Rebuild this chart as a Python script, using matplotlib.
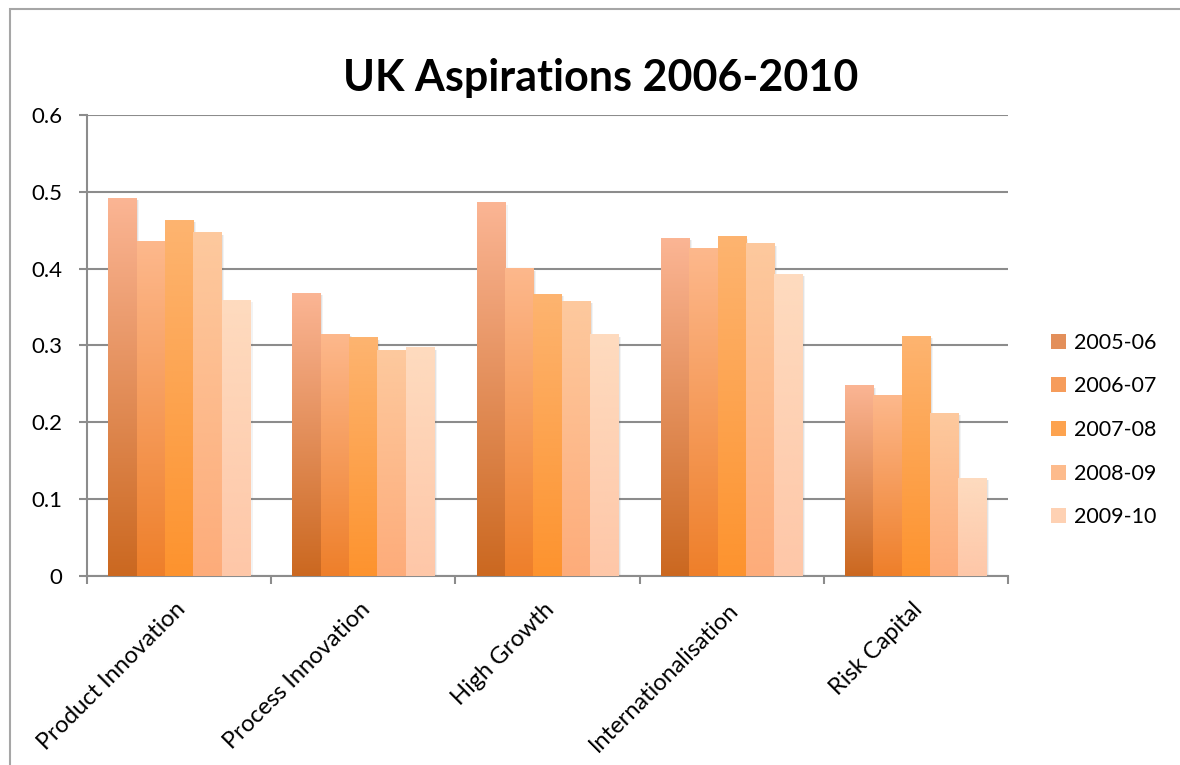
import numpy as np
import matplotlib
matplotlib.use("Agg")
import matplotlib.pyplot as plt
from matplotlib.patches import Rectangle
from matplotlib.colors import to_rgb
import matplotlib.transforms as mtransforms

categories = ["Product Innovation", "Process Innovation", "High Growth",
              "Internationalisation", "Risk Capital"]
years = ["2005-06", "2006-07", "2007-08", "2008-09", "2009-10"]

# one list per year, values in category order
v2005 = [0.492, 0.368, 0.486, 0.440, 0.248]
v2006 = [0.435, 0.315, 0.400, 0.427, 0.235]
v2007 = [0.463, 0.310, 0.367, 0.442, 0.312]
v2008 = [0.447, 0.294, 0.358, 0.433, 0.212]
v2009 = [0.359, 0.297, 0.314, 0.393, 0.127]
series = [v2005, v2006, v2007, v2008, v2009]

# bottom -> top colours of each bar's gradient
grad_bottom = ["#CB6820", "#EE7F2A", "#FD932E", "#FDAC7A", "#FEC7A8"]
grad_top = ["#FBB594", "#FDB88C", "#FDB470", "#FDC99E", "#FEDBBF"]

plt.rcParams['font.family'] = ['Lato', 'DejaVu Sans']

fig = plt.figure(figsize=(11.8, 7.65), dpi=100)
ax = fig.add_axes([87/1180, 1 - 575.7/765, (1008-87)/1180, (575.7-115)/765])

n = len(series)
w = 0.154
grid_col = "#8C8C8C"


def gradient_bar(ax, x0, h, c0, c1):
    c0 = np.array(to_rgb(c0))
    c1 = np.array(to_rgb(c1))
    t = np.linspace(1, 0, 200)[:, None]
    img = (c1 * t + c0 * (1 - t))[:, None, :]
    ax.imshow(img, extent=[x0, x0 + w, 0, h], aspect='auto', zorder=3,
              interpolation='bilinear')
    # soft shadow on the right
    for k, a in [(0.014, 0.07), (0.008, 0.10)]:
        ax.add_patch(Rectangle((x0 + k, 0), w, h - 0.003, facecolor='#555555',
                               edgecolor='none', alpha=a, zorder=2))


for i, vals in enumerate(series):
    for j, v in enumerate(vals):
        x0 = j + (i - n / 2) * w
        gradient_bar(ax, x0, v, grad_bottom[i], grad_top[i])

ax.set_xlim(-0.5, len(categories) - 0.5)
ax.set_ylim(0, 0.6)
ax.set_yticks(np.arange(0, 0.61, 0.1))
ax.set_yticklabels(["0", "0.1", "0.2", "0.3", "0.4", "0.5", "0.6"])
ax.yaxis.grid(True, color=grid_col, linewidth=1.5)
ax.set_axisbelow(True)

for s in ["top", "right"]:
    ax.spines[s].set_visible(False)
for s in ["left", "bottom"]:
    ax.spines[s].set_color(grid_col)
    ax.spines[s].set_linewidth(1.5)

ax.tick_params(axis='y', length=6, width=1.5, color=grid_col, labelsize=16, pad=12)
ax.set_xticks(np.arange(len(categories)))
ax.set_xticks(np.arange(-0.5, len(categories)), minor=True)
ax.tick_params(axis='x', which='major', length=0, labelsize=17, pad=22)
ax.tick_params(axis='x', which='minor', length=6, width=1.5, color=grid_col)
ax.set_xticklabels(categories, rotation=45, ha='right', va='center',
                   rotation_mode='anchor')
shift = mtransforms.ScaledTranslation(3/100, 0, fig.dpi_scale_trans)
for lab in ax.get_xticklabels():
    lab.set_transform(lab.get_transform() + shift)

fig.text(0.509, 1 - 78/765, "UK Aspirations 2006-2010", ha='center', va='center',
         fontsize=31, fontweight='bold')

handles = []
for i in range(n):
    mid = (np.array(to_rgb(grad_bottom[i])) + np.array(to_rgb(grad_top[i]))) / 2
    handles.append(Rectangle((0, 0), 1, 1, facecolor=mid, edgecolor='none'))
fig.legend(handles, years, loc='center left', bbox_to_anchor=(1051/1180, 1 - 430/765),
           frameon=False, fontsize=15.5, handlelength=0.7, handleheight=0.7,
           handletextpad=0.35, labelspacing=1.1, borderpad=0, borderaxespad=0)

# chart-area border
fig.add_artist(Rectangle((10/1180, -0.05), 1.1, 1 - 9/765 + 0.05,
                         transform=fig.transFigure, facecolor='none',
                         edgecolor='#A6A6A6', linewidth=1.5))

fig.savefig("out.png", dpi=100)
